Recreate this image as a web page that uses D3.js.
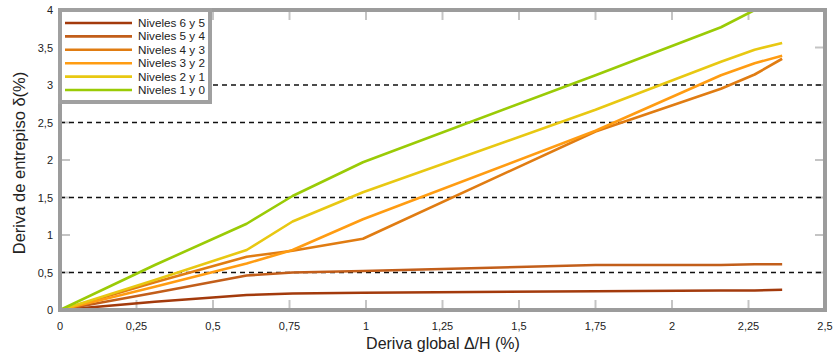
<!DOCTYPE html>
<html><head><meta charset="utf-8">
<script src="https://cdn.jsdelivr.net/npm/d3@7"></script>
<style>body{margin:0;background:#fff}svg{display:block}text{font-family:"Liberation Sans",Arial,sans-serif;fill:#222}</style>
</head><body><div id="chart"></div>
<script>
const xValues = [0, 0.31, 0.61, 0.76, 0.99, 1.75, 2.16, 2.27, 2.36];
const seriesNames = ["Niveles 6 y 5","Niveles 5 y 4","Niveles 4 y 3","Niveles 3 y 2","Niveles 2 y 1","Niveles 1 y 0"];
const niv65 = [0, 0.11, 0.2, 0.22, 0.23, 0.25, 0.26, 0.26, 0.27];
const niv54 = [0, 0.23, 0.46, 0.5, 0.52, 0.6, 0.6, 0.61, 0.61];
const niv43 = [0, 0.37, 0.71, 0.79, 0.95, 2.38, 2.95, 3.14, 3.35];
const niv32 = [0, 0.31, 0.62, 0.8, 1.21, 2.39, 3.13, 3.29, 3.39];
const niv21 = [0, 0.4, 0.8, 1.18, 1.57, 2.67, 3.31, 3.47, 3.56];
const niv10 = [0, 0.6, 1.15, 1.52, 1.97, 3.13, 3.77, 4.0, 4.2];
const seriesColors = ["#a33a0c","#c25e1a","#e07c12","#ff9c12","#e8c812","#9acb06"];
const xTicks = [0,0.25,0.5,0.75,1,1.25,1.5,1.75,2,2.25,2.5];
const yTicks = [0,0.5,1,1.5,2,2.5,3,3.5,4];
const dashedLevels = [0.5,1.5,2.5,3];

const allSeries = [niv65, niv54, niv43, niv32, niv21, niv10];
const W = 835, H = 358;
const svg = d3.select("#chart").append("svg").attr("width", W).attr("height", H);
const x = d3.scaleLinear().domain([0,2.5]).range([60,825]);
const y = d3.scaleLinear().domain([0,4]).range([310,10]);
const fmt = d => String(d).replace(".", ",");

svg.append("defs").append("clipPath").attr("id","clip")
  .append("rect").attr("x",60).attr("y",10).attr("width",765).attr("height",300);

// tick marks inside frame
const tg = svg.append("g").attr("stroke","#c4c4c4").attr("stroke-width",2);
xTicks.slice(1,-1).forEach(t => {
  tg.append("line").attr("x1",x(t)).attr("x2",x(t)).attr("y1",y(0)).attr("y2",y(0)-10);
  tg.append("line").attr("x1",x(t)).attr("x2",x(t)).attr("y1",y(4)).attr("y2",y(4)+10);
});
yTicks.slice(1,-1).forEach(t => {
  tg.append("line").attr("x1",x(0)).attr("x2",x(0)+10).attr("y1",y(t)).attr("y2",y(t));
  tg.append("line").attr("x1",x(2.5)).attr("x2",x(2.5)-10).attr("y1",y(t)).attr("y2",y(t));
});

// dashed lines
svg.append("g").selectAll("line").data(dashedLevels).join("line")
  .attr("x1",x(0)).attr("x2",x(2.5)).attr("y1",d=>y(d)).attr("y2",d=>y(d))
  .attr("stroke","#111").attr("stroke-width",1.5).attr("stroke-dasharray","5,4");

// series lines
const line = d3.line().x((d,i)=>x(xValues[i])).y(d=>y(d));
svg.append("g").attr("clip-path","url(#clip)").selectAll("path").data(allSeries).join("path")
  .attr("d", d=>line(d)).attr("fill","none")
  .attr("stroke",(d,i)=>seriesColors[i]).attr("stroke-width",2.6).attr("stroke-linejoin","round");

// frame
svg.append("rect").attr("x",x(0)).attr("y",y(4)).attr("width",x(2.5)-x(0)).attr("height",y(0)-y(4))
  .attr("fill","none").attr("stroke","#9c9c9c").attr("stroke-width",4);

// legend
const lg = svg.append("g");
lg.append("rect").attr("x",60).attr("y",10).attr("width",150).attr("height",92)
  .attr("fill","#fff").attr("stroke","#a0a0a0").attr("stroke-width",4);
seriesNames.forEach((n,i) => {
  const yy = 23 + i*13.4;
  lg.append("line").attr("x1",65).attr("x2",132).attr("y1",yy).attr("y2",yy)
    .attr("stroke",seriesColors[i]).attr("stroke-width",2.6);
  lg.append("text").attr("x",138).attr("y",yy+4).attr("font-size",11.7).text(n);
});

// tick labels
svg.append("g").selectAll("text").data(xTicks).join("text")
  .attr("x",d=>x(d)).attr("y",330).attr("text-anchor","middle").attr("font-size",11).text(fmt);
svg.append("g").selectAll("text").data(yTicks).join("text")
  .attr("x",53).attr("y",d=>y(d)+4).attr("text-anchor","end").attr("font-size",11).text(fmt);

// axis titles
svg.append("text").attr("x",443).attr("y",349).attr("text-anchor","middle").attr("font-size",16)
  .text("Deriva global \u0394/H (%)");
svg.append("text").attr("transform","translate(25,163) rotate(-90)").attr("text-anchor","middle")
  .attr("font-size",16.5).text("Deriva de entrepiso \u03b4(%)");
</script></body></html>
